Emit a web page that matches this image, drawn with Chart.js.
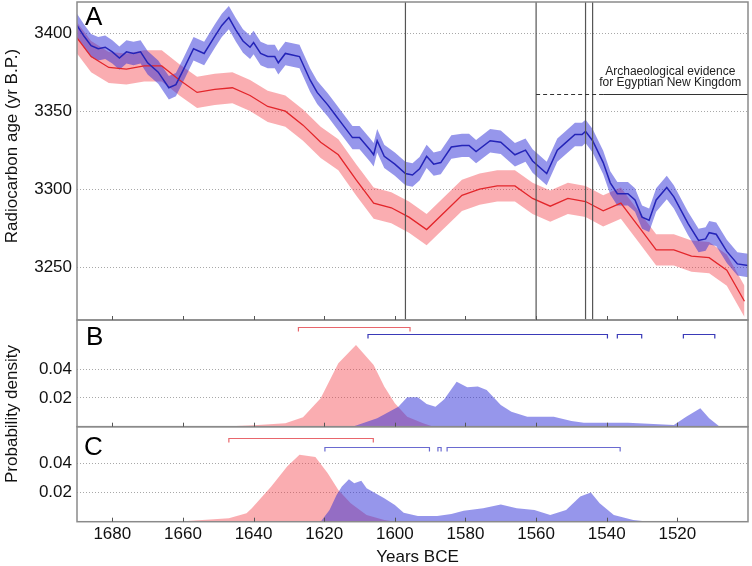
<!DOCTYPE html>
<html>
<head>
<meta charset="utf-8">
<script src="https://cdn.jsdelivr.net/npm/chart.js@4.4.0/dist/chart.umd.min.js"></script>
<style>
  html, body { margin: 0; padding: 0; background: #fff; }
  #wrap { width: 752px; height: 566px; }
</style>
</head>
<body>
<div id="wrap"><canvas id="chart" width="752" height="566"></canvas></div>
<script>
const FONT = '"Liberation Sans", Arial, Helvetica, sans-serif';

// axis ticks
const xTicks = [1680, 1660, 1640, 1620, 1600, 1580, 1560, 1540, 1520];
const ageTicks = [3250, 3300, 3350, 3400];
const densTicks = [0.02, 0.04];

// panel A: annual record (blue) and IntCal13 (red), radiocarbon age in yr BP
const blueYears = [1690, 1688, 1686, 1684, 1682, 1680, 1678, 1676, 1674, 1672, 1670, 1667, 1664, 1662, 1660,
  1657, 1654, 1651, 1649, 1647, 1645, 1643, 1641, 1640, 1638, 1636, 1634, 1633, 1631, 1629, 1627, 1624,
  1622, 1619, 1617, 1615, 1612, 1610, 1607, 1606, 1605, 1603, 1600, 1597, 1595, 1593, 1591, 1589, 1587,
  1584, 1581, 1579, 1577, 1573, 1570, 1566, 1563, 1561, 1557, 1554, 1552, 1549, 1547, 1546, 1544, 1541,
  1539, 1537, 1534, 1532, 1530, 1528, 1526, 1523, 1521, 1517, 1514, 1512, 1511, 1509, 1506, 1503, 1500];
const blueAge = [3405, 3398, 3392, 3390, 3391, 3388, 3384, 3388, 3387, 3388, 3381, 3375, 3365, 3367, 3376,
  3390, 3387, 3398, 3405, 3410, 3402, 3395, 3391, 3394, 3387, 3385, 3385, 3381, 3387, 3386, 3385, 3370,
  3362, 3354, 3348, 3342, 3333, 3333, 3325, 3322, 3331, 3321, 3316, 3310, 3309, 3313, 3321, 3316, 3317,
  3327, 3328, 3328, 3324, 3331, 3330, 3322, 3325, 3318, 3310, 3325, 3329, 3335, 3335, 3337, 3331, 3317,
  3304, 3297, 3297, 3293, 3282, 3280, 3293, 3301, 3295, 3278, 3267, 3268, 3272, 3271, 3260, 3252, 3251];
const blueErr = 7.5;

const redYears = [1691, 1686, 1681, 1676, 1671, 1666, 1661, 1656, 1651, 1646, 1641, 1636, 1631, 1626, 1621,
  1616, 1611, 1606, 1601, 1596, 1591, 1581, 1576, 1571, 1566, 1561, 1556, 1551, 1546, 1541, 1536, 1531,
  1526, 1521, 1516, 1511, 1506, 1501];
const redAge = [3400, 3385, 3378, 3377, 3379, 3379, 3370, 3362, 3364, 3365, 3360, 3353, 3350, 3341, 3330,
  3322, 3306, 3291, 3288, 3282, 3274, 3296, 3300, 3302, 3302, 3294, 3289, 3294, 3292, 3286, 3291, 3276,
  3261, 3261, 3257, 3256, 3248, 3228];
const redErr = 10;

// panel B: probability densities
const redBYears = [1650, 1645, 1640, 1631, 1626, 1621, 1616, 1611, 1606, 1603, 1600, 1596.5, 1592, 1589];
const redBDens = [0, 0.0005, 0.001, 0.0024, 0.0065, 0.0197, 0.044, 0.0567, 0.0428, 0.0278, 0.0162, 0.0069, 0.0024, 0];
const blueBYears = [1612, 1605, 1599, 1596.5, 1593.5, 1591, 1588.5, 1586, 1582.5, 1579.5, 1576.5, 1574, 1570,
  1567, 1562.5, 1555, 1550, 1546.5, 1534, 1521, 1517.5, 1513.5, 1511, 1508];
const blueBDens = [0, 0.0058, 0.0139, 0.0204, 0.0204, 0.0158, 0.0139, 0.019, 0.0312, 0.0273, 0.0278, 0.0255, 0.015,
  0.0104, 0.0069, 0.0069, 0.004, 0.0028, 0.0028, 0.0012, 0.0069, 0.0128, 0.0058, 0];

// panel C: probability densities
const redCYears = [1662, 1647, 1642, 1640.5, 1635, 1630.5, 1627, 1622.5, 1619, 1616, 1612.5, 1608, 1603, 1600];
const redCDens = [0, 0.0023, 0.0058, 0.0092, 0.024, 0.0377, 0.0458, 0.0442, 0.0332, 0.0217, 0.0126, 0.0046, 0.0012, 0];
const blueCYears = [1621, 1618.5, 1616.5, 1615, 1613, 1611.5, 1609.5, 1608, 1605.5, 1603, 1600, 1597.5, 1593.5,
  1588, 1584, 1580.5, 1575, 1570, 1565.5, 1560.5, 1556, 1551.5, 1547.5, 1544.5, 1542, 1538, 1532.5, 1528];
const blueCDens = [0, 0.008, 0.0183, 0.024, 0.0291, 0.0263, 0.0281, 0.0229, 0.0195, 0.016, 0.0115, 0.0062, 0.0039,
  0.0039, 0.0053, 0.0075, 0.0092, 0.0118, 0.0092, 0.008, 0.0046, 0.008, 0.0172, 0.0199, 0.0126, 0.0046, 0.0012, 0];

// range brackets (start, end) and their heights
const redRangesB = [[1627.3, 1595.7]];
const blueRangesB = [[1607.6, 1539.8], [1537, 1530.1], [1518.3, 1509.4]];
const rangeLevelsB = [0.0694, 0.0641];
const redRangesC = [[1647, 1606.1]];
const blueRangesC = [[1619.8, 1590.2], [1587.8, 1586.9], [1585.2, 1536.2]];
const rangeLevelsC = [0.0571, 0.0514];

// vertical markers and archaeological evidence line in panel A
const eventYears = [1597, 1560, 1546, 1544];
const evidenceLevel = 3361;
const evidenceYears = [1560, 1541, 1500]; // dashed start, solid start, end
const evidenceText = ['Archaeological evidence', 'for Egyptian New Kingdom'];
const evidenceTextPos = [1522, 3373, 3366];

const RED = '#e3262b', BLUE = '#2424b8';
const RED_FILL = 'rgba(242, 60, 70, 0.42)';
const BLUE_FILL = 'rgba(45, 45, 215, 0.5)';

const pts = (xs, ys, d = 0) => xs.map((x, i) => ({ x: x, y: ys[i] + d }));

function line(ctx, x1, y1, x2, y2) {
  ctx.beginPath(); ctx.moveTo(x1, y1); ctx.lineTo(x2, y2); ctx.stroke();
}

const overlay = {
  id: 'overlay',
  afterDatasetsDraw(chart) {
    const { ctx, scales } = chart;
    const x = scales.x, A = scales.yA, B = scales.yB, C = scales.yC;
    const px = v => x.getPixelForValue(v);
    ctx.save();

    // event lines
    ctx.strokeStyle = '#555'; ctx.lineWidth = 1.2;
    eventYears.forEach(yr => { const p = px(yr); line(ctx, p, A.top, p, A.bottom); });

    // evidence line
    const ey = Math.round(A.getPixelForValue(evidenceLevel)) + 0.5;
    ctx.strokeStyle = '#333'; ctx.lineWidth = 1;
    ctx.setLineDash([4, 3]);
    line(ctx, px(evidenceYears[0]), ey, px(evidenceYears[1]), ey);
    ctx.setLineDash([]);
    line(ctx, px(evidenceYears[1]), ey, px(evidenceYears[2]), ey);
    ctx.fillStyle = '#222'; ctx.font = '12px ' + FONT; ctx.textAlign = 'center'; ctx.textBaseline = 'alphabetic';
    ctx.fillText(evidenceText[0], px(evidenceTextPos[0]), A.getPixelForValue(evidenceTextPos[1]));
    ctx.fillText(evidenceText[1], px(evidenceTextPos[0]), A.getPixelForValue(evidenceTextPos[2]));

    // brackets
    const drawRanges = (ranges, level, scale, color) => {
      ctx.strokeStyle = color; ctx.lineWidth = 1.2;
      const y = Math.round(scale.getPixelForValue(level)) + 0.5;
      ranges.forEach(r => {
        const a = px(r[0]), b = px(r[1]);
        ctx.beginPath(); ctx.moveTo(a, y + 4); ctx.lineTo(a, y); ctx.lineTo(b, y); ctx.lineTo(b, y + 4); ctx.stroke();
      });
    };
    drawRanges(redRangesB, rangeLevelsB[0], B, '#e8666c');
    drawRanges(blueRangesB, rangeLevelsB[1], B, '#3a3ab8');
    drawRanges(redRangesC, rangeLevelsC[0], C, '#e8666c');
    drawRanges(blueRangesC, rangeLevelsC[1], C, '#6a6ad0');

    // panel frames and inside ticks
    ctx.strokeStyle = '#8a8a8a'; ctx.lineWidth = 1.5;
    [A, B, C].forEach(s => {
      ctx.strokeRect(x.left, s.top, x.right - x.left, s.bottom - s.top);
    });
    ctx.strokeStyle = '#555'; ctx.lineWidth = 1;
    [A, B, C].forEach(s => {
      xTicks.forEach(v => { const p = Math.round(px(v)) + 0.5; line(ctx, p, s.bottom, p, s.bottom - 4); });
    });

    // x tick labels
    ctx.fillStyle = '#111'; ctx.font = '17px ' + FONT; ctx.textAlign = 'center';
    xTicks.forEach(v => ctx.fillText(String(v), px(v), C.bottom + 17));

    // panel letters
    ctx.fillStyle = '#000'; ctx.font = '26px ' + FONT; ctx.textAlign = 'left';
    ctx.fillText('A', x.left + 8, A.top + 23);
    ctx.fillText('B', x.left + 9, B.top + 25);
    ctx.fillText('C', x.left + 7, C.top + 28);

    // axis titles
    ctx.font = '17px ' + FONT; ctx.fillStyle = '#111'; ctx.textAlign = 'center';
    ctx.fillText('Years BCE', (x.left + x.right) / 2 + 5, 562);
    ctx.save(); ctx.translate(17, 146); ctx.rotate(-Math.PI / 2);
    ctx.fillText('Radiocarbon age (yr B.P.)', 0, 0); ctx.restore();
    ctx.save(); ctx.translate(17, 414); ctx.rotate(-Math.PI / 2);
    ctx.fillText('Probability density', 0, 0); ctx.restore();

    ctx.restore();
  }
};

const yCommon = {
  type: 'linear', position: 'left', stack: 'panels',
  grid: { color: '#a8a8a8', lineWidth: 1, drawTicks: false },
  border: { display: false, dash: [1, 2] },
  ticks: { font: { family: FONT, size: 17 }, color: '#111', padding: 5 },
  afterFit: s => { s.width = 77; s.paddingTop = 0; s.paddingBottom = 0; }
};

new Chart(document.getElementById('chart'), {
  type: 'line',
  data: {
    datasets: [
      { data: pts(blueYears, blueAge), yAxisID: 'yA', borderColor: BLUE, borderWidth: 1.5, order: 0 },
      { data: pts(redYears, redAge), yAxisID: 'yA', borderColor: RED, borderWidth: 1.3, order: 0 },
      { data: pts(blueYears, blueAge, blueErr), yAxisID: 'yA', borderWidth: 0, fill: '+1', backgroundColor: BLUE_FILL, order: 1 },
      { data: pts(blueYears, blueAge, -blueErr), yAxisID: 'yA', borderWidth: 0, order: 1 },
      { data: pts(redYears, redAge, redErr), yAxisID: 'yA', borderWidth: 0, fill: '+1', backgroundColor: RED_FILL, order: 2 },
      { data: pts(redYears, redAge, -redErr), yAxisID: 'yA', borderWidth: 0, order: 2 },
      { data: pts(blueBYears, blueBDens), yAxisID: 'yB', borderWidth: 0, fill: 'origin', backgroundColor: BLUE_FILL, order: 1 },
      { data: pts(redBYears, redBDens), yAxisID: 'yB', borderWidth: 0, fill: 'origin', backgroundColor: RED_FILL, order: 2 },
      { data: pts(blueCYears, blueCDens), yAxisID: 'yC', borderWidth: 0, fill: 'origin', backgroundColor: BLUE_FILL, order: 1 },
      { data: pts(redCYears, redCDens), yAxisID: 'yC', borderWidth: 0, fill: 'origin', backgroundColor: RED_FILL, order: 2 }
    ]
  },
  options: {
    responsive: false,
    animation: false,
    devicePixelRatio: 1,
    layout: { padding: { top: 2, right: 4, left: 0, bottom: 0 } },
    elements: { point: { radius: 0 }, line: { tension: 0 } },
    plugins: { legend: { display: false }, tooltip: { enabled: false } },
    scales: {
      x: {
        type: 'linear', reverse: true, min: 1500, max: 1690,
        afterBuildTicks: s => { s.ticks = xTicks.map(v => ({ value: v })); },
        afterFit: s => { s.height = 44.3; s.paddingLeft = 0; s.paddingRight = 0; },
        grid: { display: false }, border: { display: false },
        ticks: { display: false }
      },
      yC: Object.assign({}, yCommon, {
        weight: 1, stackWeight: 95, min: 0, max: 0.065,
        afterBuildTicks: s => { s.ticks = densTicks.map(v => ({ value: v })); },
        ticks: Object.assign({}, yCommon.ticks, { callback: v => v.toFixed(2) })
      }),
      yB: Object.assign({}, yCommon, {
        weight: 2, stackWeight: 106.7, min: 0, max: 0.074,
        afterBuildTicks: s => { s.ticks = densTicks.map(v => ({ value: v })); },
        ticks: Object.assign({}, yCommon.ticks, { callback: v => v.toFixed(2) })
      }),
      yA: Object.assign({}, yCommon, {
        weight: 3, stackWeight: 318, min: 3216, max: 3420,
        afterBuildTicks: s => { s.ticks = ageTicks.map(v => ({ value: v })); },
        ticks: Object.assign({}, yCommon.ticks, { callback: v => String(v) })
      })
    }
  },
  plugins: [overlay]
});
</script>
</body>
</html>
